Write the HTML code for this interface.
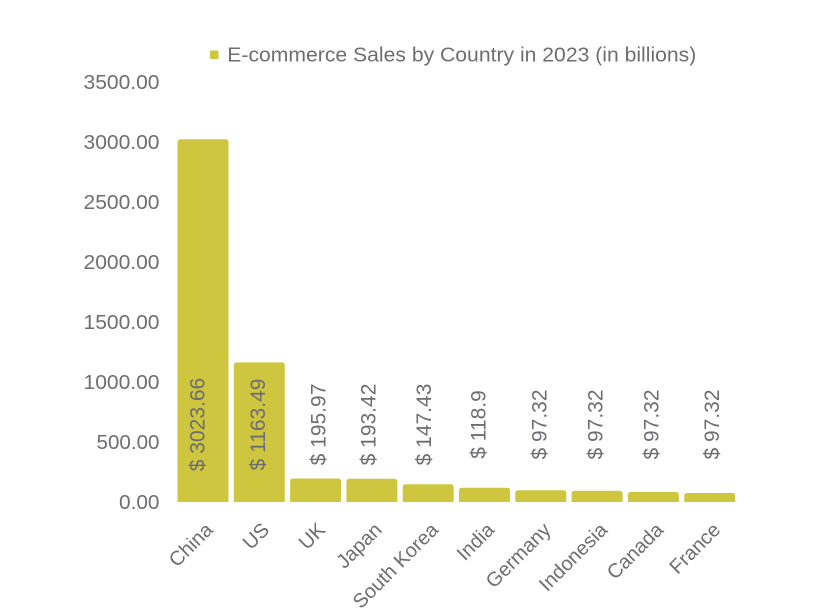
<!DOCTYPE html>
<html>
<head>
<meta charset="utf-8">
<style>
  html, body { margin: 0; padding: 0; background: #ffffff; }
  svg { display: block; }
  text { font-family: "Liberation Sans", Arial, sans-serif; fill: #6e6e72; }
</style>
</head>
<body>
<svg width="819" height="614" viewBox="0 0 819 614" xmlns="http://www.w3.org/2000/svg">
  <rect x="0" y="0" width="819" height="614" fill="#ffffff"/>

  <!-- Legend -->
  <rect x="210" y="50.5" width="8.5" height="8.5" rx="1" fill="#cdc63e"/>
  <text x="227.3" y="61.7" font-size="20.5" textLength="469" lengthAdjust="spacingAndGlyphs">E-commerce Sales by Country in 2023 (in billions)</text>

  <!-- Y axis labels -->
  <g font-size="20.5" text-anchor="end">
    <text x="159.5" y="89" textLength="76" lengthAdjust="spacingAndGlyphs">3500.00</text>
    <text x="159.5" y="149" textLength="76" lengthAdjust="spacingAndGlyphs">3000.00</text>
    <text x="159.5" y="209" textLength="76" lengthAdjust="spacingAndGlyphs">2500.00</text>
    <text x="159.5" y="269" textLength="76" lengthAdjust="spacingAndGlyphs">2000.00</text>
    <text x="159.5" y="329" textLength="76" lengthAdjust="spacingAndGlyphs">1500.00</text>
    <text x="159.5" y="389" textLength="76" lengthAdjust="spacingAndGlyphs">1000.00</text>
    <text x="159.5" y="449" textLength="63" lengthAdjust="spacingAndGlyphs">500.00</text>
    <text x="159.5" y="509" textLength="40.5" lengthAdjust="spacingAndGlyphs">0.00</text>
  </g>

  <!-- Bars (rounded top corners) -->
  <g fill="#cdc63e">
    <path d="M177.5,502 V142.2 Q177.5,139.2 180.5,139.2 H225.5 Q228.5,139.2 228.5,142.2 V502 Z"/>
    <path d="M233.8,502 V365.4 Q233.8,362.4 236.8,362.4 H281.8 Q284.8,362.4 284.8,365.4 V502 Z"/>
    <path d="M290.1,502 V481.5 Q290.1,478.5 293.1,478.5 H338.1 Q341.1,478.5 341.1,481.5 V502 Z"/>
    <path d="M346.4,502 V481.8 Q346.4,478.8 349.4,478.8 H394.4 Q397.4,478.8 397.4,481.8 V502 Z"/>
    <path d="M402.7,502 V487.3 Q402.7,484.3 405.7,484.3 H450.7 Q453.7,484.3 453.7,487.3 V502 Z"/>
    <path d="M459,502 V490.7 Q459,487.7 462,487.7 H507 Q510,487.7 510,490.7 V502 Z"/>
    <path d="M515.3,502 V493.3 Q515.3,490.3 518.3,490.3 H563.3 Q566.3,490.3 566.3,493.3 V502 Z"/>
    <path d="M571.6,502 V493.8 Q571.6,490.8 574.6,490.8 H619.6 Q622.6,490.8 622.6,493.8 V502 Z"/>
    <path d="M627.9,502 V495 Q627.9,492 630.9,492 H675.9 Q678.9,492 678.9,495 V502 Z"/>
    <path d="M684.2,502 V496 Q684.2,493 687.2,493 H732.2 Q735.2,493 735.2,496 V502 Z"/>
  </g>

  <!-- Data labels (rotated) -->
  <g font-size="21" text-anchor="middle">
    <text transform="translate(204.5,424.5) rotate(-90)">$ 3023.66</text>
    <text transform="translate(265,424.5) rotate(-90)">$ 1163.49</text>
    <text transform="translate(325.5,424.5) rotate(-90)">$ 195.97</text>
    <text transform="translate(375.5,424.5) rotate(-90)">$ 193.42</text>
    <text transform="translate(431,424.5) rotate(-90)">$ 147.43</text>
    <text transform="translate(485.5,424.5) rotate(-90)">$ 118.9</text>
    <text transform="translate(546.5,424.5) rotate(-90)">$ 97.32</text>
    <text transform="translate(602.5,424.5) rotate(-90)">$ 97.32</text>
    <text transform="translate(658.5,424.5) rotate(-90)">$ 97.32</text>
    <text transform="translate(719,424.5) rotate(-90)">$ 97.32</text>
  </g>

  <!-- X axis labels (rotated -45) -->
  <g font-size="20" text-anchor="end">
    <text transform="translate(214,531) rotate(-45)">China</text>
    <text transform="translate(270.5,531) rotate(-45)">US</text>
    <text transform="translate(326.5,531) rotate(-45)">UK</text>
    <text transform="translate(383,531) rotate(-45)">Japan</text>
    <text transform="translate(439.5,531) rotate(-45)">South Korea</text>
    <text transform="translate(495.5,531) rotate(-45)">India</text>
    <text transform="translate(552,531) rotate(-45)">Germany</text>
    <text transform="translate(608.5,531) rotate(-45)">Indonesia</text>
    <text transform="translate(664.5,531) rotate(-45)">Canada</text>
    <text transform="translate(721.5,531) rotate(-45)">France</text>
  </g>
</svg>
</body>
</html>
